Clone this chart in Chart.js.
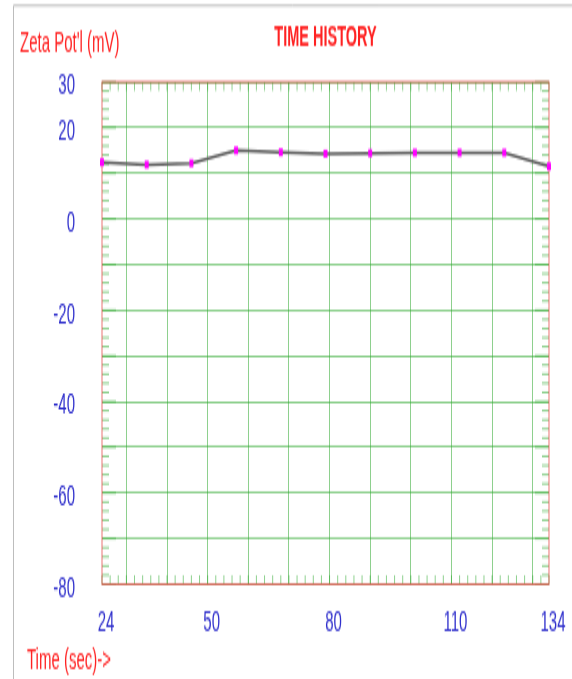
<!DOCTYPE html>
<html>
<head>
<meta charset="utf-8">
<title>Time History</title>
<script src="https://cdn.jsdelivr.net/npm/chart.js@4.4.1/dist/chart.umd.min.js"></script>
<style>
  html, body { margin: 0; padding: 0; background: #fff; }
  /* the reference is a chart stretched to twice its height: draw at half height, let CSS stretch the bitmap */
  #historyChart { display: block; }
</style>
</head>
<body>
<canvas id="historyChart" width="572" height="340" style="width:572px;height:679px"></canvas>
<script>
// time (sec) of each measurement and zeta potential (mV)
const timeSec = [24, 35, 46, 57, 68, 79, 90, 101, 112, 123, 134];
const zetaMv = [12.4, 11.9, 12.2, 15.0, 14.6, 14.3, 14.4, 14.5, 14.5, 14.5, 11.5];

// which tick values get a printed label
const xTickLabels = [24, 50, 80, 110, 134];
const yTickLabels = [30, 20, 0, -20, -40, -60, -80];

const FONT = "'Liberation Sans', Arial, sans-serif";
const GRID_GREEN = 'rgba(50, 170, 50, 0.55)';
const FRAME_RED = 'rgba(230, 70, 70, 0.75)';
const LABEL_BLUE = '#3030cc';
const TEXT_RED = '#ff2222';

// small minor tick marks inside the plot frame + red frame
const plotFrame = {
  id: 'plotFrame',
  beforeDatasetsDraw(chart) {
    const { ctx, chartArea: a, scales } = chart;
    ctx.save();
    ctx.strokeStyle = GRID_GREEN;
    ctx.lineWidth = 1;
    ctx.beginPath();
    scales.x.ticks.forEach(t => {
      const px = scales.x.getPixelForValue(t.value);
      ctx.moveTo(px, a.top); ctx.lineTo(px, a.top + 4.5);
      ctx.moveTo(px, a.bottom); ctx.lineTo(px, a.bottom - 4.5);
    });
    scales.y.ticks.forEach(t => {
      const py = scales.y.getPixelForValue(t.value);
      const len = t.value % 10 === 0 ? 14 : 7;
      ctx.moveTo(a.left, py); ctx.lineTo(a.left + len, py);
      ctx.moveTo(a.right, py); ctx.lineTo(a.right - len, py);
    });
    ctx.stroke();
    ctx.strokeStyle = FRAME_RED;
    ctx.strokeRect(a.left, a.top, a.right - a.left, a.bottom - a.top);
    ctx.restore();
  },
  afterDraw(chart) {
    const { ctx } = chart;
    ctx.save();
    // grey window edge
    ctx.strokeStyle = '#bdbdbd';
    ctx.lineWidth = 1;
    ctx.beginPath();
    ctx.moveTo(13.5, chart.height); ctx.lineTo(13.5, 2.8); ctx.lineTo(chart.width, 2.8);
    ctx.stroke();
    // axis captions
    ctx.fillStyle = TEXT_RED;
    ctx.font = '15px ' + FONT;
    ctx.textBaseline = 'middle';
    ctx.textAlign = 'left';
    ctx.fillText("Zeta Pot'l (mV)", 20, 21.5);
    ctx.fillText('Time (sec)->', 27, 330.5);
    ctx.restore();
  }
};

const ctx = document.getElementById('historyChart').getContext('2d');
new Chart(ctx, {
  type: 'line',
  data: {
    datasets: [{
      label: 'Zeta Potential',
      data: timeSec.map((t, i) => ({ x: t, y: zetaMv[i] })),
      borderColor: '#5a5a5a',
      borderWidth: 1.5,
      tension: 0,
      pointStyle: 'rect',
      pointRadius: 2.8,
      pointBackgroundColor: '#ff00ff',
      pointBorderColor: '#ff00ff',
      pointBorderWidth: 0,
      clip: false
    }]
  },
  options: {
    responsive: false,
    animation: false,
    layout: { padding: { left: 0, right: 21, top: 0, bottom: 0 } },
    plugins: {
      legend: { display: false },
      tooltip: { enabled: false },
      title: {
        display: true,
        text: 'TIME HISTORY',
        fullSize: false,
        color: TEXT_RED,
        font: { family: FONT, size: 14.5, weight: 'bold' },
        padding: { top: 10, bottom: 13.6 }
      }
    },
    scales: {
      x: {
        type: 'linear',
        min: 24,
        max: 134,
        afterFit: s => { s.height = 47.5; },
        border: { display: false },
        grid: {
          drawTicks: false,
          color: c => (c.tick && c.tick.value % 10 === 0) ? GRID_GREEN : 'transparent'
        },
        ticks: {
          stepSize: 2,
          autoSkip: false,
          maxRotation: 0,
          minRotation: 0,
          padding: 10.5,
          labelOffset: 4,
          color: LABEL_BLUE,
          font: { family: FONT, size: 15 },
          callback: v => xTickLabels.includes(v) ? String(v) : ''
        }
      },
      y: {
        min: -80,
        max: 30,
        afterFit: s => { s.width = 102; },
        border: { display: false },
        grid: {
          drawTicks: false,
          color: c => (c.tick && c.tick.value % 10 === 0) ? GRID_GREEN : 'transparent'
        },
        ticks: {
          stepSize: 2,
          autoSkip: false,
          padding: 27,
          labelOffset: 2.3,
          color: LABEL_BLUE,
          font: { family: FONT, size: 15 },
          callback: v => yTickLabels.includes(v) ? String(v) : ''
        }
      }
    }
  },
  plugins: [plotFrame]
});
</script>
</body>
</html>
